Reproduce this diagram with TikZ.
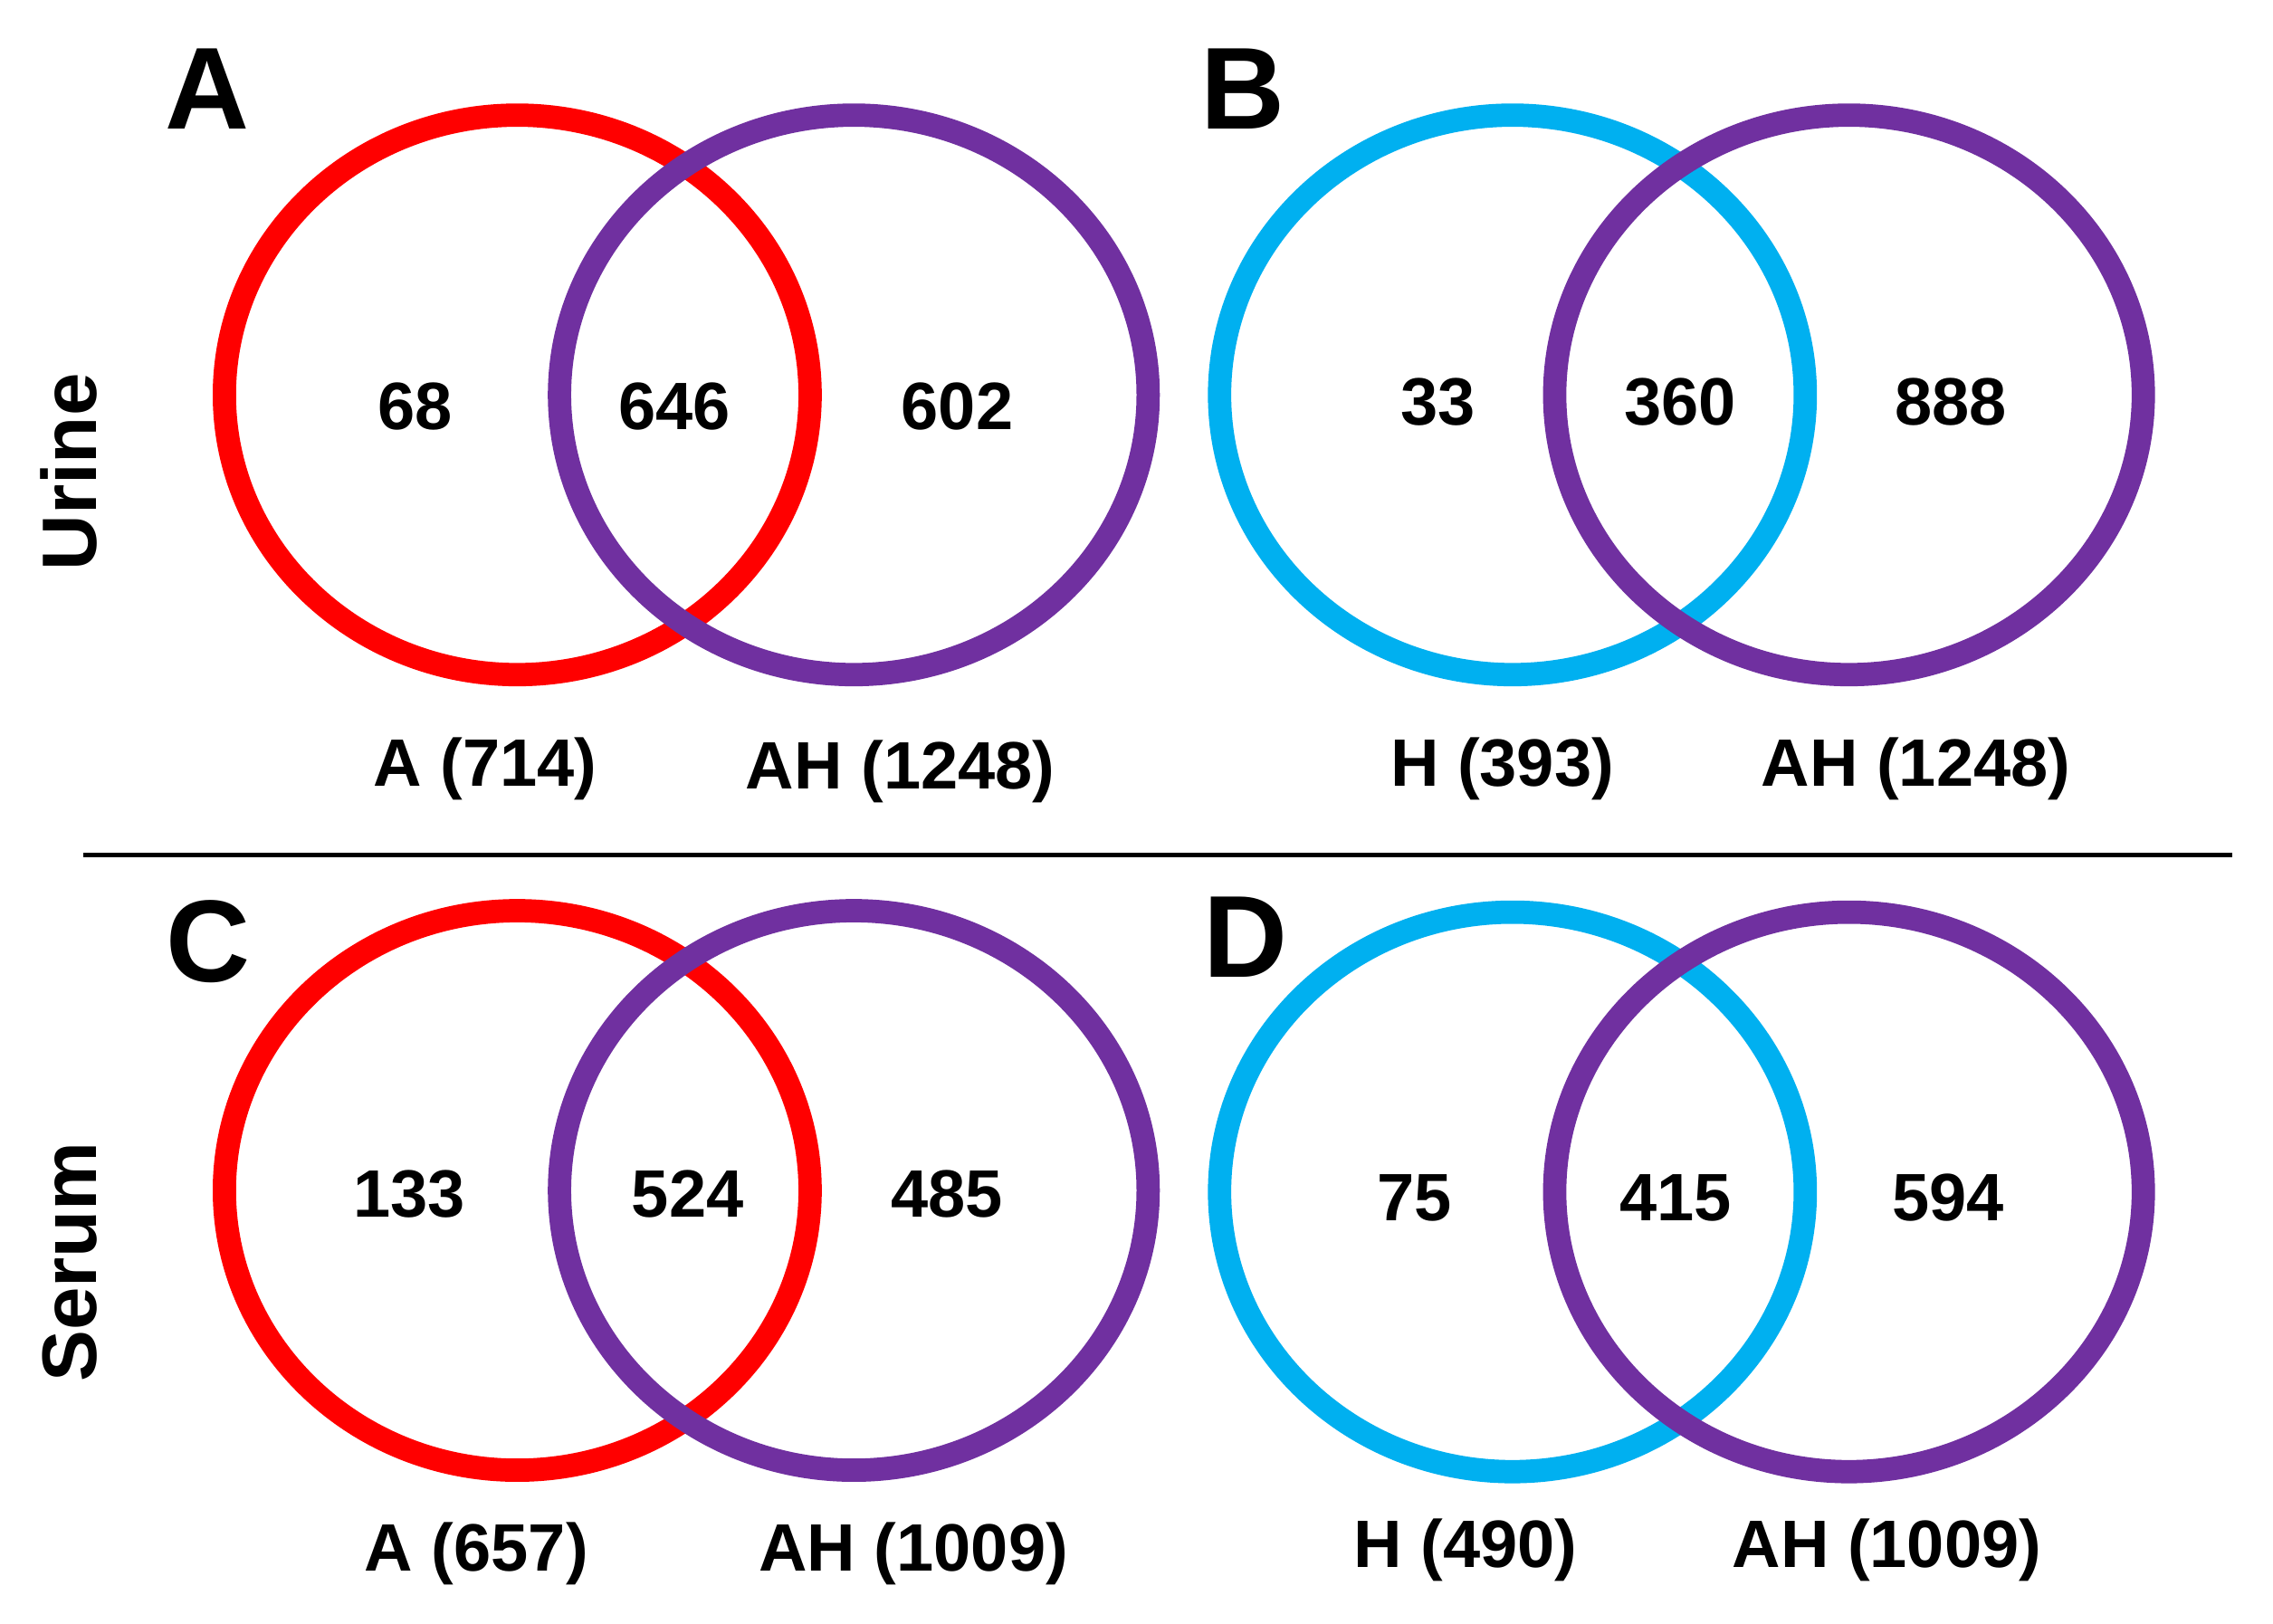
\documentclass[tikz,border=0pt]{standalone}
\usepackage{fontspec}
\setmainfont{Liberation Sans}
\definecolor{vred}{HTML}{FF0000}
\definecolor{vpurple}{HTML}{7030A0}
\definecolor{vcyan}{HTML}{00B0F0}
\begin{document}
\begin{tikzpicture}[x=0.5pt,y=-0.5pt,
  ring/.style={line width=8pt},
  num/.style={inner sep=0pt,font=\fontsize{23}{23}\selectfont\bfseries,text height=16.5pt,text depth=0pt},
  setlab/.style={inner sep=0pt,font=\fontsize{23}{23}\selectfont\bfseries,text height=16.5pt,text depth=0pt},
  panel/.style={inner sep=0pt,font=\fontsize{40}{40}\selectfont\bfseries,text height=28.6pt,text depth=0pt},
  side/.style={inner sep=0pt,rotate=90,font=\fontsize{26.5}{26.5}\selectfont\bfseries,text height=19pt,text depth=0pt}]
\useasboundingbox[fill=white] (0,0) rectangle (1560,1114);
% Panel A
\draw[ring,vred] (355,271) ellipse [x radius=201,y radius=192];
\draw[ring,vpurple] (586,271) ellipse [x radius=202,y radius=192];
% Panel B
\draw[ring,vcyan] (1038,271) ellipse [x radius=201,y radius=192];
\draw[ring,vpurple] (1269,271) ellipse [x radius=202,y radius=192];
% Panel C
\draw[ring,vred] (355,817) ellipse [x radius=201,y radius=192];
\draw[ring,vpurple] (586,817) ellipse [x radius=202,y radius=192];
% Panel D
\draw[ring,vcyan] (1038,818) ellipse [x radius=201,y radius=192];
\draw[ring,vpurple] (1269,818) ellipse [x radius=202,y radius=192];
% separator
\coordinate (l1) at (57,587);
\coordinate (l2) at (1532,587);
\draw[line width=1.5pt,black] (l1) -- (l2);
% panel letters
\node[panel] (pA) at (142,60) {A};
\node[panel] (pB) at (853,60) {B};
\node[panel] (pC) at (143,645) {C};
\node[panel] (pD) at (855,642) {D};
% side labels
\node[side] (urine) at (47,324) {Urine};
\node[side] (serum) at (47,866) {Serum};
% numbers
\node[num] (a1) at (285,278) {68};
\node[num] (a2) at (463,278) {646};
\node[num] (a3) at (657,278) {602};
\node[num] (b1) at (987,275) {33};
\node[num] (b2) at (1153,275) {360};
\node[num] (b3) at (1339,275) {888};
\node[num] (c1) at (281,819) {133};
\node[num] (c2) at (472,819) {524};
\node[num] (c3) at (650,819) {485};
\node[num] (d1) at (971,821) {75};
\node[num] (d2) at (1150,821) {415};
\node[num] (d3) at (1337,821) {594};
% set labels
\node[setlab] (la1) at (333,523) {A (714)};
\node[setlab] (la2) at (618,525) {AH (1248)};
\node[setlab] (lb1) at (1031,523) {H (393)};
\node[setlab] (lb2) at (1315,523) {AH (1248)};
\node[setlab] (lc1) at (327,1062) {A (657)};
\node[setlab] (lc2) at (627,1062) {AH (1009)};
\node[setlab] (ld1) at (1006,1059) {H (490)};
\node[setlab] (ld2) at (1295,1059) {AH (1009)};
\end{tikzpicture}
\end{document}
